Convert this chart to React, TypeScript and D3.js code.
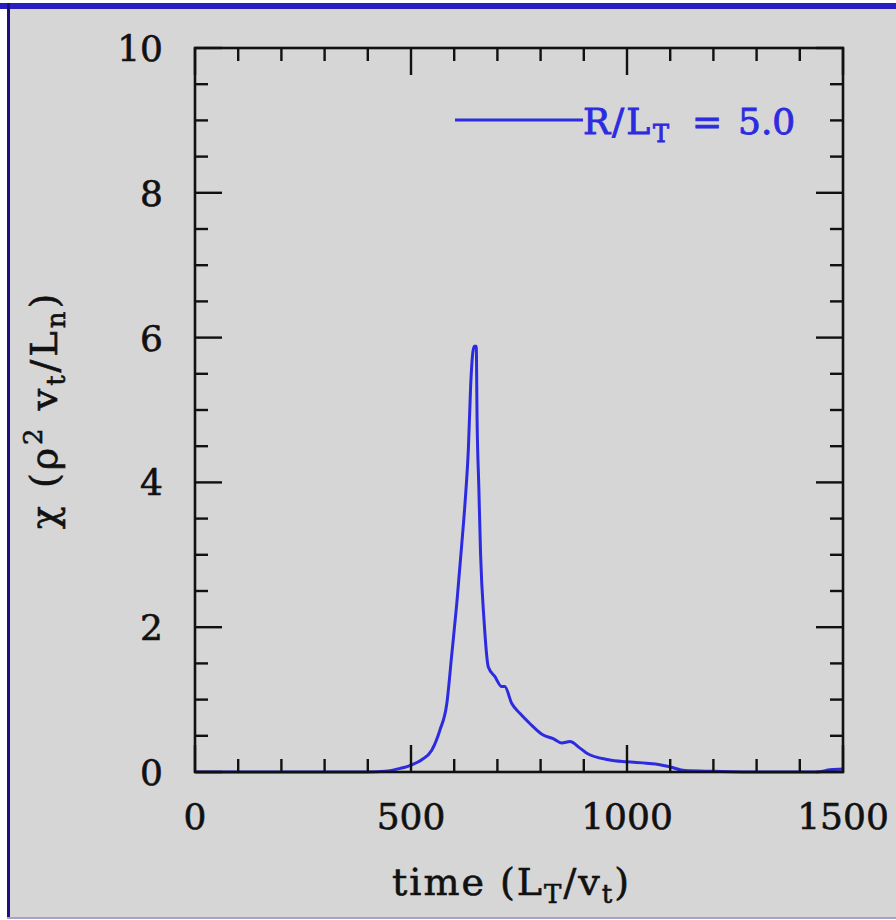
import React from "react";
import * as d3 from "d3";

const times = [0, 100, 200, 300, 400, 440, 475, 502, 525, 548, 567, 583, 594, 606, 617, 625, 633, 638, 646, 651, 653, 657, 661, 669, 679, 694, 710, 717, 733, 752, 775, 806, 829, 849, 868, 891, 907, 957, 999, 1045, 1076, 1100, 1134, 1200, 1300, 1439, 1470, 1500];
const chi = [0, 0, 0, 0, 0, 0.01, 0.05, 0.1, 0.17, 0.3, 0.58, 0.95, 1.6, 2.33, 3.11, 3.71, 4.49, 5.32, 5.88, 5.88, 4.86, 3.94, 3.02, 2.1, 1.45, 1.32, 1.18, 1.18, 0.95, 0.81, 0.67, 0.51, 0.46, 0.4, 0.42, 0.33, 0.26, 0.17, 0.14, 0.12, 0.1, 0.07, 0.02, 0.01, 0, 0, 0.03, 0.04];

const xMajor = [0, 500, 1000, 1500];
const yMajor = [0, 2, 4, 6, 8, 10];
const xTickLabels = ["0", "500", "1000", "1500"];
const yTickLabels = ["0", "2", "4", "6", "8", "10"];
const legendLabel = "R/L";
const legendSub = "T";
const legendValue = "5.0";

const W = 896, H = 920;
const L = 195, R = 843, T = 48, B = 772;
const FONT = "'DejaVu Serif', 'Liberation Serif', serif";
const BLUE = "#2d2be0";

export default function App() {
  const x = d3.scaleLinear().domain([0, 1500]).range([L, R]);
  const y = d3.scaleLinear().domain([0, 10]).range([B, T]);
  const line = d3.line<number>().x((_, i) => x(times[i])).y((d) => y(d)).curve(d3.curveMonotoneX);
  const xMinor = d3.range(0, 1501, 100);
  const yMinor = d3.range(0, 10.01, 0.5);
  const isXMaj = (v: number) => v % 500 === 0;
  const isYMaj = (v: number) => Math.abs(v % 2) < 1e-9;
  const maj = 27, mnr = 13;
  const txt = { fontFamily: FONT, stroke: "#111", strokeWidth: 0.6, fill: "#111" };
  const ltxt = { fontFamily: FONT, stroke: BLUE, strokeWidth: 0.9, fill: BLUE };

  return (
    <svg width={W} height={H} style={{ position: "absolute", left: 0, top: 0, display: "block", background: "#fff" }}>
      <rect x={10} y={9} width={W - 10} height={908} fill="#d6d6d6" />
      <rect x={0} y={3} width={W} height={6} fill="#2a1fbe" />
      <rect x={7} y={3} width={3} height={914} fill="#1c1080" />
      <rect x={7} y={917} width={W - 7} height={2} fill="#a8a2c8" />

      {/* curve */}
      <path d={line(chi) || ""} fill="none" stroke={BLUE} strokeWidth={3} strokeLinejoin="round" />

      {/* frame */}
      <rect x={L} y={T} width={R - L} height={B - T} fill="none" stroke="#111" strokeWidth={2.6} />
      {xMinor.map((v) => {
        const len = isXMaj(v) ? maj : mnr;
        return (
          <g key={"xt" + v} stroke="#111" strokeWidth={2.4}>
            <line x1={x(v)} x2={x(v)} y1={B} y2={B - len} />
            <line x1={x(v)} x2={x(v)} y1={T} y2={T + len} />
          </g>
        );
      })}
      {yMinor.map((v) => {
        const len = isYMaj(v) ? maj : mnr;
        return (
          <g key={"yt" + v} stroke="#111" strokeWidth={2.4}>
            <line x1={L} x2={L + len} y1={y(v)} y2={y(v)} />
            <line x1={R} x2={R - len} y1={y(v)} y2={y(v)} />
          </g>
        );
      })}

      {xMajor.map((v, i) => (
        <text key={"xl" + v} x={x(v)} y={829} textAnchor="middle" fontSize={36} {...txt}>
          {xTickLabels[i]}
        </text>
      ))}
      {yMajor.map((v, i) => (
        <text key={"yl" + v} x={163} y={y(v) + 13} textAnchor="end" fontSize={36} {...txt}>
          {yTickLabels[i]}
        </text>
      ))}

      {/* legend */}
      <line x1={455} x2={583} y1={120} y2={120} stroke={BLUE} strokeWidth={3} />
      <text x={583} y={134} fontSize={36} letterSpacing={2} {...ltxt}>{legendLabel}</text>
      <text x={653} y={142} fontSize={24} {...ltxt}>{legendSub}</text>
      <text x={692} y={134} fontSize={36} {...ltxt}>=</text>
      <text x={738} y={134} fontSize={36} {...ltxt}>{legendValue}</text>

      {/* x title */}
      <text x={392} y={895} fontSize={38} letterSpacing={2} {...txt}>
        time (L<tspan fontSize={26} dy={8}>T</tspan>
        <tspan dy={-8}>/v</tspan>
        <tspan fontSize={26} dy={8}>t</tspan>
        <tspan dy={-8}>)</tspan>
      </text>

      {/* y title */}
      <text transform="translate(57,410) rotate(-90)" textAnchor="middle" fontSize={38} letterSpacing={3} {...txt}>
        χ (ρ<tspan fontSize={26} dy={-15}>2</tspan>
        <tspan dy={15}> v</tspan>
        <tspan fontSize={26} dy={8}>t</tspan>
        <tspan dy={-8}>/L</tspan>
        <tspan fontSize={26} dy={8}>n</tspan>
        <tspan dy={-8}>)</tspan>
      </text>
    </svg>
  );
}
